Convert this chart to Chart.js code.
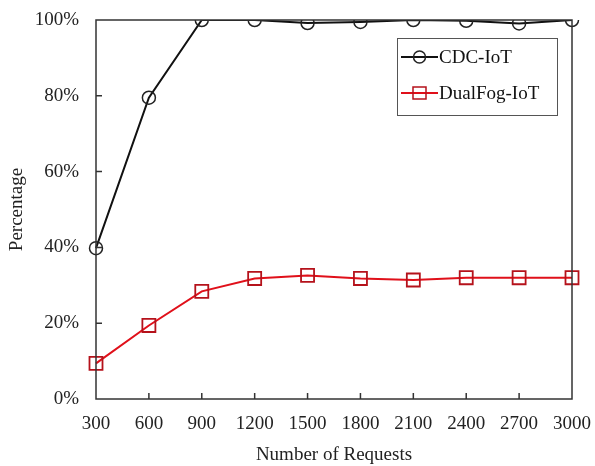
<!DOCTYPE html>
<html>
<head>
<meta charset="utf-8">
<script src="https://cdn.jsdelivr.net/npm/chart.js@4.4.0/dist/chart.umd.min.js"></script>
<style>
  html, body { margin: 0; padding: 0; background: #fff; }
  #wrap { width: 595px; height: 466px; }
</style>
</head>
<body>
<div id="wrap"><canvas id="chart" width="595" height="466"></canvas></div>
<script>
// data
const requests = ['300', '600', '900', '1200', '1500', '1800', '2100', '2400', '2700', '3000'];
const cdcIot = [39.8, 79.5, 100, 100, 99.2, 99.5, 100, 99.8, 99.1, 100];
const dualFogIot = [9.4, 19.4, 28.4, 31.8, 32.6, 31.8, 31.4, 32.0, 32.0, 32.0];
const yTicks = [0, 20, 40, 60, 80, 100];

const FONT = '"Liberation Serif", "Times New Roman", serif';
const AXIS = '#333';

// frame + inward ticks
const framePlugin = {
    id: 'frame',
    afterDatasetsDraw(chart) {
        const { ctx, chartArea: a, scales } = chart;
        ctx.save();
        ctx.strokeStyle = AXIS;
        ctx.lineWidth = 1.5;
        ctx.strokeRect(a.left, a.top, a.right - a.left, a.bottom - a.top);
        ctx.beginPath();
        requests.forEach((r, i) => {
            if (i === 0 || i === requests.length - 1) return;
            const x = scales.x.getPixelForValue(i);
            ctx.moveTo(x, a.bottom);
            ctx.lineTo(x, a.bottom - 6);
        });
        yTicks.forEach(v => {
            if (v === 0 || v === 100) return;
            const y = scales.y.getPixelForValue(v);
            ctx.moveTo(a.left, y);
            ctx.lineTo(a.left + 6, y);
        });
        ctx.stroke();
        ctx.restore();
    }
};

// legend box inside plot, top-right
const legendPlugin = {
    id: 'boxLegend',
    afterDraw(chart) {
        const ctx = chart.ctx;
        const bx = 397, by = 38, bw = 160, bh = 77;
        ctx.save();
        ctx.fillStyle = '#fff';
        ctx.fillRect(bx, by, bw, bh);
        ctx.strokeStyle = '#555';
        ctx.lineWidth = 1;
        ctx.strokeRect(bx + 0.5, by + 0.5, bw, bh);
        const rows = [57, 93];
        chart.data.datasets.forEach((ds, i) => {
            const y = rows[i];
            ctx.strokeStyle = ds.borderColor;
            ctx.lineWidth = 2;
            ctx.beginPath();
            ctx.moveTo(401, y);
            ctx.lineTo(438, y);
            ctx.stroke();
            ctx.strokeStyle = ds.pointBorderColor;
            ctx.lineWidth = 1.5;
            ctx.beginPath();
            if (ds.pointStyle === 'circle') {
                ctx.arc(419.5, y, 6, 0, Math.PI * 2);
            } else {
                ctx.rect(413, y - 6, 13, 12);
            }
            ctx.stroke();
            ctx.fillStyle = '#111';
            ctx.font = '19px ' + FONT;
            ctx.textBaseline = 'middle';
            ctx.textAlign = 'left';
            ctx.fillText(ds.label, 439, y + 1);
        });
        ctx.restore();
    }
};

function noOverflow(s) {
    s.paddingTop = 0;
    s.paddingBottom = 0;
    s.paddingLeft = 0;
    s.paddingRight = 0;
}

new Chart(document.getElementById('chart'), {
    type: 'line',
    data: {
        labels: requests,
        datasets: [
            {
                label: 'CDC-IoT',
                data: cdcIot,
                borderColor: '#111',
                borderWidth: 2,
                pointStyle: 'circle',
                pointRadius: 6.5,
                pointBorderWidth: 1.5,
                pointBorderColor: '#222',
                pointBackgroundColor: 'rgba(0,0,0,0)',
                tension: 0
            },
            {
                label: 'DualFog-IoT',
                data: dualFogIot,
                borderColor: '#e0101a',
                borderWidth: 2,
                pointStyle: 'rect',
                pointRadius: 9.2,
                pointBorderWidth: 1.8,
                pointBorderColor: '#b5121b',
                pointBackgroundColor: 'rgba(0,0,0,0)',
                tension: 0
            }
        ]
    },
    options: {
        responsive: false,
        animation: false,
        layout: { padding: { top: 20, right: 23, left: 0, bottom: 0 } },
        plugins: {
            legend: { display: false },
            tooltip: { enabled: false }
        },
        scales: {
            x: {
                offset: false,
                grid: { display: false, drawTicks: false },
                border: { display: false },
                ticks: {
                    color: '#222',
                    padding: 14,
                    maxRotation: 0,
                    autoSkip: false,
                    font: { family: FONT, size: 19 }
                },
                title: {
                    display: true,
                    text: 'Number of Requests',
                    color: '#222',
                    padding: { top: 1, bottom: 0 },
                    font: { family: FONT, size: 19 }
                },
                afterFit(s) { s.height = 67; noOverflow(s); }
            },
            y: {
                min: 0,
                max: 100,
                grid: { display: false, drawTicks: false },
                border: { display: false },
                afterBuildTicks(s) { s.ticks = yTicks.map(v => ({ value: v })); },
                ticks: {
                    color: '#222',
                    padding: 17,
                    callback: v => v + '%',
                    font: { family: FONT, size: 19 }
                },
                title: {
                    display: true,
                    text: 'Percentage',
                    color: '#222',
                    padding: { top: 6, bottom: 0 },
                    font: { family: FONT, size: 19 }
                },
                afterFit(s) { s.width = 96; noOverflow(s); }
            }
        }
    },
    plugins: [framePlugin, legendPlugin]
});
</script>
</body>
</html>
